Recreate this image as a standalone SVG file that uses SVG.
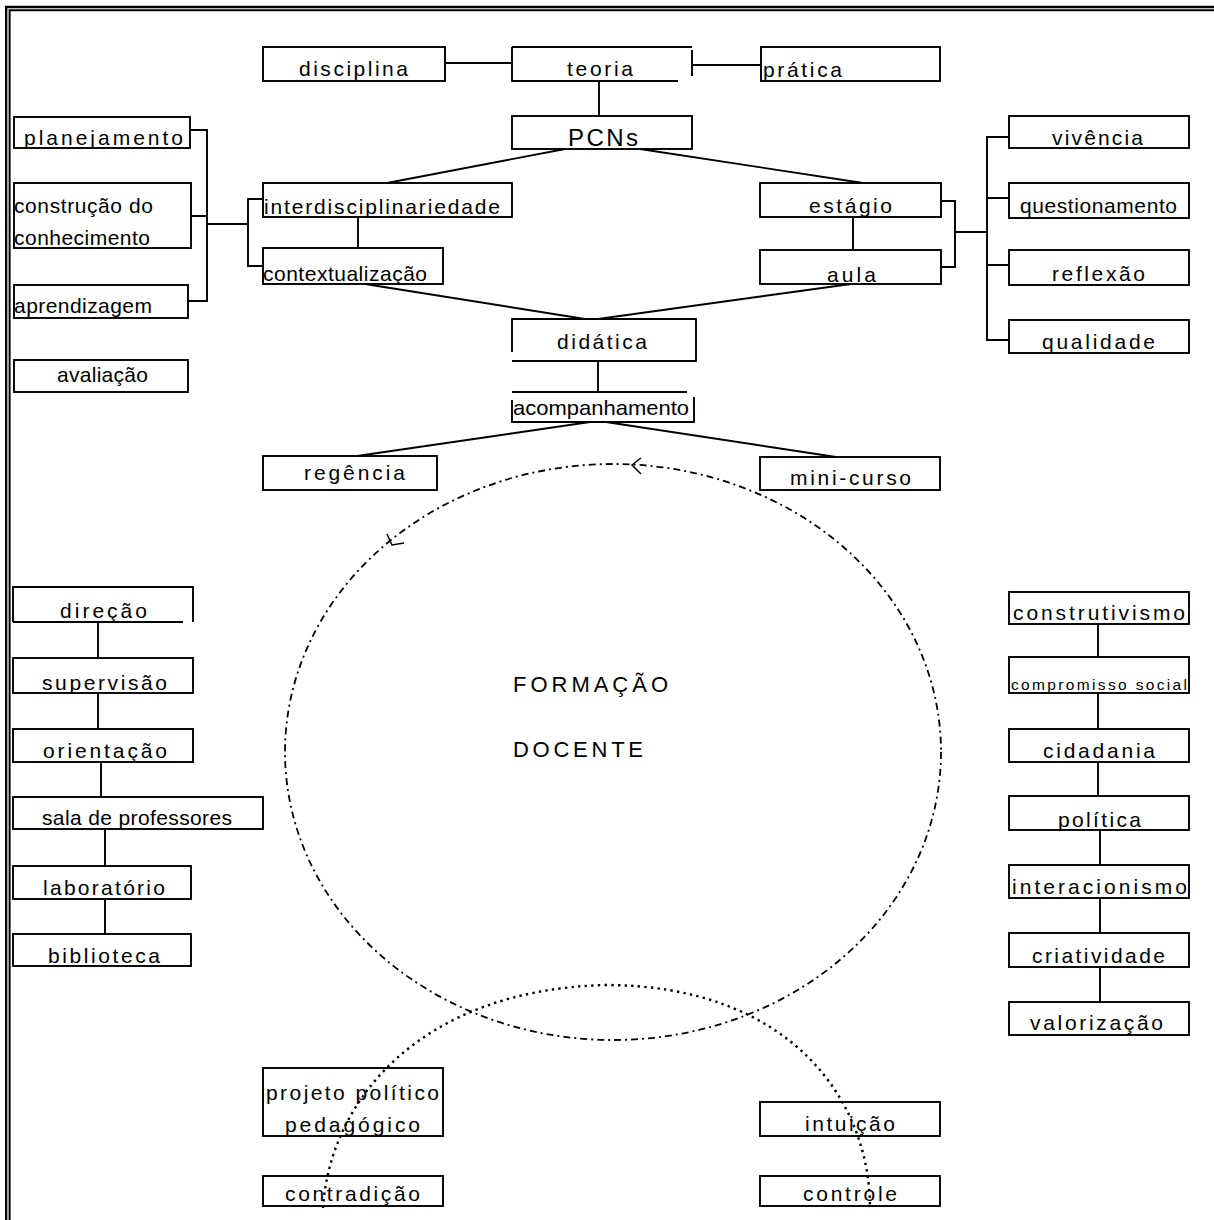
<svg xmlns="http://www.w3.org/2000/svg" width="1214" height="1220" viewBox="0 0 1214 1220">
<style>
.b{fill:#fff;stroke:#000;stroke-width:1.9}
.o{fill:none;stroke:#000;stroke-width:1.9}
.c path{fill:none;stroke:#000;stroke-width:1.9}
text{font-family:"Liberation Sans",Arial,sans-serif;font-size:21px;fill:#000}
.s{font-size:15.5px}
.big{font-size:22px}
.p{font-size:24px}
</style>
<rect width="1214" height="1220" fill="#fff"/>
<g id="border" fill="none" stroke="#000">
<path d="M6.2 1220 V7 H1214" stroke-width="2.3"/>
<path d="M9.6 1220 V10.2 H1214" stroke-width="2"/>
</g>
<g id="n-disciplina"><rect class="b" x="263" y="47" width="182" height="34"/><text x="299" y="76" textLength="109" lengthAdjust="spacing">disciplina</text></g>
<g id="n-teoria"><path class="o" d="M512 47 H692 M512 47 V81 H678 M692 50 V76"/><text x="567" y="76" textLength="66" lengthAdjust="spacing">teoria</text></g>
<g id="n-pratica"><rect class="b" x="761" y="47" width="179" height="34"/><text x="763" y="77" textLength="79" lengthAdjust="spacing">prática</text></g>
<g id="n-pcns"><rect class="b" x="512" y="116" width="180" height="33"/><text class="p" x="568" y="146" textLength="70" lengthAdjust="spacing">PCNs</text></g>
<g id="n-planejamento"><rect class="b" x="14" y="117" width="176" height="31"/><text x="24" y="145" textLength="159" lengthAdjust="spacing">planejamento</text></g>
<g id="n-construcao"><rect class="b" x="14" y="183" width="177" height="65"/><text x="14" y="213" textLength="139" lengthAdjust="spacing">construção do</text><text x="14" y="245" textLength="136" lengthAdjust="spacing">conhecimento</text></g>
<g id="n-aprendizagem"><rect class="b" x="14" y="285" width="174" height="33"/><text x="14" y="313" textLength="138" lengthAdjust="spacing">aprendizagem</text></g>
<g id="n-avaliacao"><rect class="b" x="14" y="360" width="174" height="32"/><text x="57" y="382" textLength="91" lengthAdjust="spacing">avaliação</text></g>
<g id="n-interdisciplinariedade"><rect class="b" x="263" y="183" width="249" height="34"/><text x="264" y="214" textLength="236" lengthAdjust="spacing">interdisciplinariedade</text></g>
<g id="n-contextualizacao"><rect class="b" x="263" y="248" width="180" height="36"/><text x="263" y="281" textLength="164" lengthAdjust="spacing">contextualização</text></g>
<g id="n-estagio"><rect class="b" x="760" y="183" width="181" height="34"/><text x="809" y="213" textLength="83" lengthAdjust="spacing">estágio</text></g>
<g id="n-aula"><rect class="b" x="760" y="250" width="181" height="34"/><text x="827" y="282" textLength="49" lengthAdjust="spacing">aula</text></g>
<g id="n-vivencia"><rect class="b" x="1009" y="116" width="180" height="32"/><text x="1052" y="145" textLength="91" lengthAdjust="spacing">vivência</text></g>
<g id="n-questionamento"><rect class="b" x="1009" y="183" width="180" height="35"/><text x="1020" y="213" textLength="157" lengthAdjust="spacing">questionamento</text></g>
<g id="n-reflexao"><rect class="b" x="1009" y="250" width="180" height="35"/><text x="1052" y="281" textLength="93" lengthAdjust="spacing">reflexão</text></g>
<g id="n-qualidade"><rect class="b" x="1009" y="320" width="180" height="33"/><text x="1042" y="349" textLength="113" lengthAdjust="spacing">qualidade</text></g>
<g id="n-didatica"><path class="o" d="M512 352 V319 H696 V361 H512"/><text x="557" y="349" textLength="90" lengthAdjust="spacing">didática</text></g>
<g id="n-acompanhamento"><path class="o" d="M512 392 H687 M512 400 V422 H694 V397"/><text x="513" y="415" textLength="176" lengthAdjust="spacingAndGlyphs">acompanhamento</text></g>
<g id="n-regencia"><rect class="b" x="263" y="456" width="174" height="34"/><text x="304" y="480" textLength="101" lengthAdjust="spacing">regência</text></g>
<g id="n-minicurso"><rect class="b" x="760" y="457" width="180" height="33"/><text x="790" y="485" textLength="121" lengthAdjust="spacing">mini-curso</text></g>
<g id="n-direcao"><path class="o" d="M13 622 V587 H193 V622 M13 622 H183"/><text x="60" y="618" textLength="87" lengthAdjust="spacing">direção</text></g>
<g id="n-supervisao"><rect class="b" x="13" y="658" width="180" height="35"/><text x="42" y="690" textLength="125" lengthAdjust="spacing">supervisão</text></g>
<g id="n-orientacao"><rect class="b" x="13" y="729" width="180" height="33"/><text x="43" y="758" textLength="124" lengthAdjust="spacing">orientação</text></g>
<g id="n-sala"><rect class="b" x="13" y="797" width="250" height="32"/><text x="42" y="825" textLength="190" lengthAdjust="spacing">sala de professores</text></g>
<g id="n-laboratorio"><rect class="b" x="13" y="866" width="178" height="33"/><text x="43" y="895" textLength="122" lengthAdjust="spacing">laboratório</text></g>
<g id="n-biblioteca"><rect class="b" x="13" y="934" width="178" height="32"/><text x="48" y="963" textLength="112" lengthAdjust="spacing">biblioteca</text></g>
<g id="n-construtivismo"><rect class="b" x="1009" y="592" width="180" height="32"/><text x="1013" y="620" textLength="172" lengthAdjust="spacing">construtivismo</text></g>
<g id="n-compromisso"><rect class="b" x="1009" y="657" width="180" height="36"/><text class="s" x="1011" y="690" textLength="176" lengthAdjust="spacing">compromisso social</text></g>
<g id="n-cidadania"><rect class="b" x="1009" y="729" width="180" height="33"/><text x="1043" y="758" textLength="112" lengthAdjust="spacing">cidadania</text></g>
<g id="n-politica"><rect class="b" x="1009" y="796" width="180" height="34"/><text x="1058" y="827" textLength="83" lengthAdjust="spacing">política</text></g>
<g id="n-interacionismo"><rect class="b" x="1009" y="865" width="180" height="33"/><text x="1012" y="894" textLength="175" lengthAdjust="spacing">interacionismo</text></g>
<g id="n-criatividade"><rect class="b" x="1009" y="933" width="180" height="34"/><text x="1032" y="963" textLength="133" lengthAdjust="spacing">criatividade</text></g>
<g id="n-valorizacao"><rect class="b" x="1009" y="1002" width="180" height="33"/><text x="1030" y="1030" textLength="133" lengthAdjust="spacing">valorização</text></g>
<g id="n-projeto"><rect class="b" x="263" y="1068" width="180" height="68"/><text x="266" y="1100" textLength="173" lengthAdjust="spacing">projeto político</text><text x="285" y="1132" textLength="135" lengthAdjust="spacing">pedagógico</text></g>
<g id="n-contradicao"><rect class="b" x="263" y="1176" width="180" height="30"/><text x="285" y="1201" textLength="135" lengthAdjust="spacing">contradição</text></g>
<g id="n-intuicao"><rect class="b" x="760" y="1102" width="180" height="34"/><text x="805" y="1131" textLength="90" lengthAdjust="spacing">intuição</text></g>
<g id="n-controle"><rect class="b" x="760" y="1176" width="180" height="30"/><text x="803" y="1201" textLength="94" lengthAdjust="spacing">controle</text></g>
<g id="n-formacao"><text class="big" x="513" y="692" textLength="155" lengthAdjust="spacing">FORMAÇÃO</text><text class="big" x="513" y="757" textLength="130" lengthAdjust="spacing">DOCENTE</text></g>
<g id="connectors" class="c">
<path d="M445 63 H512"/>
<path d="M692 65 H762"/>
<path d="M599 81 V116"/>
<path d="M565 149 L387 183"/>
<path d="M640 149 L863 183"/>
<path d="M190 130 H207 V301 H188 M191 216 H207 M207 224 H248 M263 199 H248 V266 H263"/>
<path d="M358 217 V248"/>
<path d="M365 284 L585 319"/>
<path d="M851 284 L598 319"/>
<path d="M853 217 V250"/>
<path d="M941 201 H955 V267 H941 M955 232 H987 M1009 137 H987 V340 H1009 M987 198 H1009 M987 265 H1009"/>
<path d="M598 361 V392"/>
<path d="M590 422 L357 456"/>
<path d="M606 422 L836 457"/>
<path d="M98 622 V658 M98 693 V729 M101 762 V797 M105 829 V866 M105 899 V934"/>
<path d="M1098 624 V657 M1098 693 V729 M1098 762 V796 M1100 830 V865 M1100 898 V933 M1100 967 V1002"/>
<ellipse cx="613" cy="752" rx="328" ry="288" fill="none" stroke="#000" stroke-width="1.8" stroke-dasharray="7 4 2 4"/>
<path d="M641 458 L632 465 L641 474" style="stroke-width:1.5"/>
<path d="M387 534 L392 545 L404 543" style="stroke-width:1.5"/>
<path d="M323 1208 C330 1100 420 990 605 985 C790 985 870 1100 870 1208" stroke-dasharray="2.4 4.2" style="stroke-width:2.4"/>
</g>
</svg>
